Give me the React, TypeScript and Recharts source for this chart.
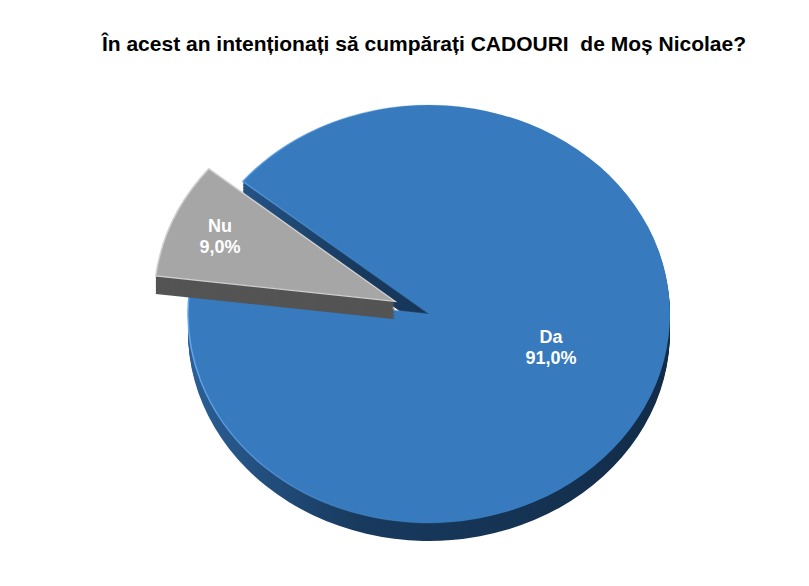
import React from "react";
import { PieChart, Pie, Cell, Sector } from "recharts";

// Data
const categories = ["Da", "Nu"];
const values = [91.0, 9.0];
const title = "În acest an intenționați să cumpărați CADOURI  de Moș Nicolae?";

const data = categories.map((name, i) => ({ name, value: values[i] }));

const TOP_COLORS: Record<string, string> = { Da: "#377abd", Nu: "#a6a6a6" };
const SIDE_COLORS: Record<string, string> = { Da: "url(#daSide)", Nu: "#545454" };
const RIM_COLORS: Record<string, string> = { Da: "url(#daRim)", Nu: "#cfcfcf" };
const EXPLODE: Record<string, number> = { Da: 0, Nu: 37 };
const LABEL_POS: Record<string, { r: number; shift: number }> = {
  Da: { r: 0.53, shift: 6 },
  Nu: { r: 0.79, shift: 0 },
};

const K = 0.867; // vertical squash for the tilted look
const DEPTH = 18;
const RAD = Math.PI / 180;

const SliceShape = (props: any) => {
  const { cx, cy, innerRadius, outerRadius, startAngle, endAngle, midAngle, payload } = props;
  const name = payload?.name ?? props.name;
  const off = EXPLODE[name] ?? 0;
  const sx = cx + off * Math.cos(-midAngle * RAD);
  const sy = cy + off * Math.sin(-midAngle * RAD);
  const base = cy * (1 - K);
  const layers = [];
  for (let d = DEPTH; d > 0; d -= 1.5) layers.push(d);
  const sector = (fill: string, stroke = "none", sw = 0) => (
    <Sector
      cx={sx}
      cy={sy}
      innerRadius={innerRadius}
      outerRadius={outerRadius}
      startAngle={startAngle}
      endAngle={endAngle}
      fill={fill}
      stroke={stroke}
      strokeWidth={sw}
    />
  );
  return (
    <g>
      <defs>
        <linearGradient id="daSide" gradientUnits="userSpaceOnUse" x1="188" y1="0" x2="670" y2="0">
          <stop offset="0" stopColor="#2b5f96" />
          <stop offset="0.35" stopColor="#183a5e" />
          <stop offset="1" stopColor="#122c48" />
        </linearGradient>
        <linearGradient id="daRim" gradientUnits="userSpaceOnUse" x1="190" y1="0" x2="500" y2="0">
          <stop offset="0" stopColor="#63a7ee" />
          <stop offset="1" stopColor="#377abd" stopOpacity="0" />
        </linearGradient>
      </defs>
      {layers.map((d) => (
        <g key={d} transform={`translate(0 ${base + d}) scale(1 ${K})`}>
          {sector(SIDE_COLORS[name])}
        </g>
      ))}
      <g transform={`translate(0 ${base}) scale(1 ${K})`}>
        {sector(TOP_COLORS[name], RIM_COLORS[name], 1.5)}
      </g>
    </g>
  );
};

const renderLabel = (p: any) => {
  const { cx, cy, midAngle, outerRadius, payload, value } = p;
  const name = payload?.name ?? p.name;
  const off = EXPLODE[name] ?? 0;
  const pos = LABEL_POS[name];
  const a = -(midAngle + pos.shift) * RAD;
  const m = -midAngle * RAD;
  const x = cx + off * Math.cos(m) + pos.r * outerRadius * Math.cos(a);
  const y = cy + (off * Math.sin(m) + pos.r * outerRadius * Math.sin(a)) * K;
  const pct = Number(value).toFixed(1).replace(".", ",") + "%";
  return (
    <text
      x={x}
      y={y}
      textAnchor="middle"
      fill="#ffffff"
      fontWeight="bold"
      fontSize={18}
      fontFamily="'Liberation Sans', Arial, sans-serif"
    >
      <tspan x={x} y={y - 4}>{name}</tspan>
      <tspan x={x} y={y + 17}>{pct}</tspan>
    </text>
  );
};

export default function App() {
  return (
    <div style={{ position: "absolute", left: 0, top: 0, width: 809, height: 586, background: "#fff" }}>
      <div
        style={{
          position: "absolute",
          left: 0,
          top: 32,
          width: 848,
          textAlign: "center",
          fontFamily: "'Liberation Sans', Arial, sans-serif",
          fontWeight: "bold",
          fontSize: 21,
          color: "#000",
          whiteSpace: "pre",
        }}
      >
        {title}
      </div>
      <PieChart width={809} height={586} margin={{ top: 0, right: 0, bottom: 0, left: 0 }}>
        <Pie
          data={data}
          dataKey="value"
          nameKey="name"
          cx={429}
          cy={314}
          innerRadius={0}
          outerRadius={241}
          startAngle={173}
          endAngle={533}
          stroke="none"
          labelLine={false}
          label={renderLabel}
          shape={SliceShape}
          activeShape={SliceShape}
          inactiveShape={SliceShape}
          isAnimationActive={false}
        >
          {data.map((d) => (
            <Cell key={d.name} fill={TOP_COLORS[d.name]} />
          ))}
        </Pie>
      </PieChart>
    </div>
  );
}
